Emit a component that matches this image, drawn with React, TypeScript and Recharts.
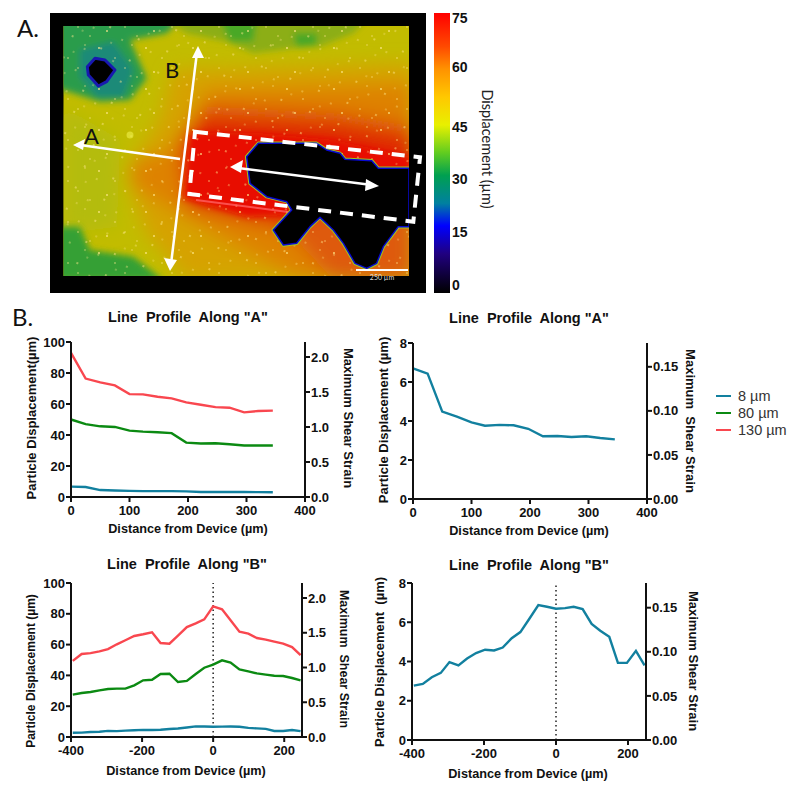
import { LineChart, Line, XAxis, YAxis, ReferenceLine } from 'recharts';

const COLOR_8 = '#12809f';
const COLOR_80 = '#0b8a12';
const COLOR_130 = '#f9474f';

const FONT = '"Liberation Sans", Arial, sans-serif';
const LIGHT_FONT = 'Lato, "Open Sans", sans-serif';

// profile along "A"
const distanceA = [0, 25, 50, 75, 100, 123, 148, 172, 197, 222, 247, 271, 296, 320, 345];
const a8 = [6.7, 6.43, 4.48, 4.22, 3.93, 3.76, 3.8, 3.78, 3.6, 3.22, 3.23, 3.18, 3.22, 3.13, 3.06];
const a80 = [50, 47, 45.6, 45.2, 42.8, 42.2, 41.8, 41.2, 35.1, 34.5, 34.7, 34, 33.2, 33.2, 33.2];
const a130 = [93, 76.4, 73.9, 72, 66.4, 66.2, 64.7, 63.6, 61, 59.5, 58, 57.6, 54.6, 55.5, 55.7];

// profile along "B"
const distanceB = [-395, -370, -345, -320, -296, -271, -247, -222, -197, -172, -148, -123, -99, -74, -49, -25, 0, 25, 49, 74, 99, 123, 148, 172, 197, 222, 246];
const b8 = [2.77, 2.86, 3.2, 3.42, 3.97, 3.8, 4.15, 4.43, 4.6, 4.56, 4.71, 5.19, 5.5, 6.18, 6.88, 6.79, 6.69, 6.72, 6.79, 6.67, 5.92, 5.57, 5.26, 3.93, 3.93, 4.54, 3.8];
const b80 = [27.5, 28.6, 29.2, 30.3, 31.2, 31.4, 31.4, 33.5, 36.8, 37.2, 40.9, 41.1, 35.7, 36.4, 40.9, 45, 47, 49.8, 48.3, 43.9, 42.6, 41.3, 40.5, 39.8, 39.6, 38.3, 36.8];
const b130 = [49.4, 53.9, 54.5, 55.6, 57.1, 60.2, 62.8, 65.6, 66.7, 68, 61, 60.6, 65.8, 71.4, 73.8, 76.4, 84.8, 82.9, 75.8, 68.4, 67.1, 64.3, 63.2, 61.9, 60.6, 58.4, 53.2];

const ticksA = [0, 100, 200, 300, 400];
const ticksB = [-400, -200, 0, 200];
const ticksAll = [0, 20, 40, 60, 80, 100];
const ticksSmall = [0, 2, 4, 6, 8];
const strainAll = [0, 0.5, 1, 1.5, 2];
const strainSmall = [0, 0.05, 0.1, 0.15];

const legendLabels = ['8 µm', '80 µm', '130 µm'];
const legendColors = [COLOR_8, COLOR_80, COLOR_130];
const colorbarTicks = [
  { label: '75', y: 18 },
  { label: '60', y: 67 },
  { label: '45', y: 127 },
  { label: '30', y: 179 },
  { label: '15', y: 232 },
  { label: '0', y: 285 },
];

const toRows = (xs: number[], s8: number[], s80: number[], s130: number[]) =>
  xs.map((x, i) => ({ x, s8: s8[i], s80: s80[i], s130: s130[i] }));

const rowsA = toRows(distanceA, a8, a80, a130);
const rowsB = toRows(distanceB, b8, b80, b130);

const PAD_SIDE = 75;
const PAD_TOP = 40;
const PAD_BOTTOM = 45;

const titleStyle = { fontFamily: FONT, fontWeight: 700, fill: '#111', whiteSpace: 'pre' as const };

interface ProfileChartProps {
  rows: typeof rowsA;
  title: string;
  titleX: number;
  titleY: number;
  plot: { left: number; right: number; top: number; bottom: number };
  xDomain: number[];
  xTicks: number[];
  yMax: number;
  yTicks: number[];
  strainMax: number;
  strainTicks: number[];
  strainDigits: number;
  leftLabel: { text: string; x: number; y: number; size: number };
  rightLabel: { text: string; x: number; y: number; size: number };
  bottomLabel: { x: number; y: number };
  allSeries: boolean;
  marker: boolean;
}

const ProfileChart = (p: ProfileChartProps) => {
  const originX = p.plot.left - PAD_SIDE;
  const originY = p.plot.top - PAD_TOP;
  const width = p.plot.right - p.plot.left + PAD_SIDE * 2;
  const height = p.plot.bottom - p.plot.top + PAD_TOP + PAD_BOTTOM;
  const tick = { fontFamily: FONT, fontWeight: 700, fontSize: 13, fill: '#111' };
  const axisLine = { stroke: '#111', strokeWidth: 2 };
  const tickLine = { stroke: '#111', strokeWidth: 2 };
  return (
    <div style={{ position: 'absolute', left: originX, top: originY }}>
      <LineChart
        width={width}
        height={height}
        data={p.rows}
        margin={{ top: PAD_TOP, bottom: 0, left: PAD_SIDE - 40, right: PAD_SIDE - 40 }}
      >
        <XAxis
          type="number"
          dataKey="x"
          domain={p.xDomain}
          ticks={p.xTicks}
          interval={0}
          height={PAD_BOTTOM}
          tick={tick}
          tickSize={5}
          tickMargin={4}
          axisLine={axisLine}
          tickLine={tickLine}
          label={{
            content: () => (
              <text
                x={p.bottomLabel.x - originX}
                y={p.bottomLabel.y - originY}
                textAnchor="middle"
                dominantBaseline="central"
                fontSize={12.7}
                style={titleStyle}
              >
                Distance from Device (µm)
              </text>
            ),
          }}
        />
        <YAxis
          yAxisId="left"
          type="number"
          width={40}
          domain={[0, p.yMax]}
          ticks={p.yTicks}
          interval={0}
          tick={tick}
          tickSize={5}
          tickMargin={1}
          axisLine={axisLine}
          tickLine={tickLine}
          label={{
            content: () => (
              <text
                transform={`translate(${p.leftLabel.x - originX},${p.leftLabel.y - originY}) rotate(-90)`}
                textAnchor="middle"
                dominantBaseline="central"
                fontSize={p.leftLabel.size}
                style={titleStyle}
              >
                {p.leftLabel.text}
              </text>
            ),
          }}
        />
        <YAxis
          yAxisId="right"
          orientation="right"
          type="number"
          width={40}
          domain={[0, p.strainMax]}
          allowDataOverflow
          ticks={p.strainTicks}
          interval={0}
          tickFormatter={(v: number) => v.toFixed(p.strainDigits)}
          tick={tick}
          tickSize={5}
          tickMargin={1}
          axisLine={axisLine}
          tickLine={tickLine}
          label={{
            content: () => (
              <text
                transform={`translate(${p.rightLabel.x - originX},${p.rightLabel.y - originY}) rotate(90)`}
                textAnchor="middle"
                dominantBaseline="central"
                fontSize={p.rightLabel.size}
                style={titleStyle}
              >
                {p.rightLabel.text}
              </text>
            ),
          }}
        />
        {p.marker && (
          <ReferenceLine
            yAxisId="left"
            x={0}
            stroke="#222"
            strokeWidth={1.5}
            strokeDasharray="1.5 3"
          />
        )}
        {/* the right axis only shows its ticks when a series is bound to it */}
        <Line yAxisId="right" dataKey="s8" stroke="none" dot={false} isAnimationActive={false} />
        {p.allSeries && (
          <Line yAxisId="left" dataKey="s130" stroke={COLOR_130} strokeWidth={2.4} dot={false} isAnimationActive={false} />
        )}
        {p.allSeries && (
          <Line yAxisId="left" dataKey="s80" stroke={COLOR_80} strokeWidth={2.4} dot={false} isAnimationActive={false} />
        )}
        <Line
          yAxisId="left"
          dataKey="s8"
          stroke={COLOR_8}
          strokeWidth={2.4}
          dot={false}
          isAnimationActive={false}
        />
      </LineChart>
      <div
        style={{
          position: 'absolute',
          left: p.titleX - originX - 120,
          top: p.titleY - originY - 10,
          width: 240,
          textAlign: 'center',
          fontFamily: FONT,
          fontWeight: 700,
          fontSize: 14.5,
          lineHeight: '20px',
          color: '#111',
          whiteSpace: 'pre',
        }}
      >
        {p.title}
      </div>
    </div>
  );
};

// the micrograph above the plots, traced by hand as one picture
const poly = (pts: number[][]) => pts.map(([x, y]) => `${x / 3},${y / 3}`).join(' ');

const HOLE_MAIN = [[775, 430], [950, 430], [980, 450], [1020, 460], [1035, 478], [1115, 482], [1135, 505], [1227, 505], [1227, 680], [1195, 680], [1150, 740], [1130, 790], [1100, 805], [1065, 790], [1030, 730], [1000, 690], [960, 652], [930, 680], [890, 730], [850, 735], [820, 690], [875, 630], [860, 605], [800, 590], [750, 550], [740, 470]];
const HOLE_SMALL = [[262, 200], [285, 175], [315, 180], [345, 210], [320, 245], [295, 258], [265, 225]];

const MapPanel = () => (
  <svg width={520} height={300} style={{ position: 'absolute', left: 0, top: 0 }}>
    <defs>
      <linearGradient id="bar" x1="0" y1="0" x2="0" y2="1">
        <stop offset="0" stopColor="#ff0000" />
        <stop offset="0.12" stopColor="#ff4a00" />
        <stop offset="0.2" stopColor="#ff9200" />
        <stop offset="0.3" stopColor="#ffc800" />
        <stop offset="0.4" stopColor="#e8f000" />
        <stop offset="0.5" stopColor="#60cc20" />
        <stop offset="0.58" stopColor="#00a050" />
        <stop offset="0.68" stopColor="#0080a0" />
        <stop offset="0.76" stopColor="#0000ff" />
        <stop offset="0.86" stopColor="#200080" />
        <stop offset="1" stopColor="#000000" />
      </linearGradient>
      <filter id="soft" x="-20%" y="-20%" width="140%" height="140%">
        <feGaussianBlur stdDeviation="9" />
      </filter>
      <filter id="tight" x="-20%" y="-20%" width="140%" height="140%">
        <feGaussianBlur stdDeviation="3" />
      </filter>
      <clipPath id="field">
        <rect x={63.5} y={26} width={345.5} height={250} />
      </clipPath>
      <pattern id="specks" width="47" height="41" patternUnits="userSpaceOnUse">
        <circle cx="5" cy="7" r="0.9" fill="#ffe98a" opacity="0.9" />
        <circle cx="21" cy="17" r="0.8" fill="#ffe98a" opacity="0.8" />
        <circle cx="38" cy="4" r="0.7" fill="#ffe98a" opacity="0.8" />
        <circle cx="13" cy="31" r="1" fill="#ffe98a" opacity="0.8" />
        <circle cx="31" cy="27" r="0.7" fill="#ffe98a" opacity="0.9" />
        <circle cx="43" cy="36" r="0.8" fill="#ffe98a" opacity="0.7" />
      </pattern>
      <pattern id="specks2" width="31" height="23" patternUnits="userSpaceOnUse" patternTransform="rotate(23)">
        <circle cx="4" cy="12" r="0.8" fill="#ffe98a" opacity="0.8" />
        <circle cx="19" cy="5" r="0.9" fill="#ffe98a" opacity="0.7" />
        <circle cx="26" cy="19" r="0.7" fill="#ffe98a" opacity="0.8" />
      </pattern>
    </defs>
    <rect x={50} y={13} width={376} height={280} fill="#000" />
    <g clipPath="url(#field)">
      <rect x={63} y={26} width={347} height={251} fill="#c2bc00" />
      <g filter="url(#soft)">
        <polygon points={poly([[190, 320], [360, 420], [350, 680], [190, 700]])} fill="#b4bc10" />
        <polygon points={poly([[520, 210], [1240, 190], [1240, 840], [560, 840], [440, 700], [380, 520], [480, 360]])} fill="#d6a200" />
        <polygon points={poly([[620, 270], [1240, 250], [1240, 840], [900, 840], [640, 700], [400, 560], [390, 490], [540, 440]])} fill="#de8200" />
        <polygon points={poly([[620, 310], [1000, 330], [1240, 370], [1240, 840], [1000, 840], [860, 690], [560, 630], [530, 430]])} fill="#de5a08" />
        <polygon points={poly([[600, 350], [1000, 370], [1240, 410], [1240, 520], [860, 680], [560, 610], [540, 420]])} fill="#e02800" />
      </g>
      <g filter="url(#tight)">
        <polygon points={poly([[150, 60], [540, 60], [500, 100], [390, 120], [440, 235], [390, 300], [300, 305], [190, 270], [150, 260]])} fill="#2a9c4c" />
        <polygon points={poly([[500, 60], [1100, 60], [1060, 100], [960, 140], [880, 145], [760, 160], [680, 125], [560, 100]])} fill="#8cae18" />
        <polygon points={poly([[660, 60], [770, 60], [760, 125], [690, 125]])} fill="#48a828" />
        <polygon points={poly([[880, 100], [950, 100], [950, 135], [890, 140]])} fill="#48a828" />
        <polygon points={poly([[150, 680], [240, 680], [270, 750], [400, 770], [490, 840], [150, 840]])} fill="#34a034" />
        <polygon points={poly([[570, 400], [780, 400], [1000, 420], [1230, 470], [1230, 520], [860, 645], [740, 650], [550, 595]])} fill="#e81000" />
        <polygon points={poly([[240, 150], [340, 125], [400, 210], [370, 290], [290, 290], [240, 230]])} fill="#1a8a78" />
      </g>
      <polygon points={poly([[190, 78], [1227, 78], [1227, 829], [190, 829]])} fill="url(#specks)" />
      <polygon points={poly([[190, 78], [1227, 78], [1227, 829], [190, 829]])} fill="url(#specks2)" />
      <polygon points={poly(HOLE_MAIN)} fill="#000" stroke="#9cc820" strokeWidth={3.5} strokeLinejoin="round" />
      <polygon points={poly(HOLE_MAIN)} fill="#000" stroke="#0808d0" strokeWidth={1.5} strokeLinejoin="round" />
      <polygon points={poly(HOLE_SMALL)} fill="#000" stroke="#1818b0" strokeWidth={3} strokeLinejoin="round" />
      <circle cx={130} cy={135} r={3.5} fill="#e8e840" opacity={0.7} />
      <line x1={196} y1={200} x2={288} y2={212} stroke="#ff6060" strokeWidth={2} opacity={0.8} />
    </g>
    <polygon
      points={poly([[585, 395], [1260, 472], [1240, 665], [568, 582]])}
      fill="none"
      stroke="#fff"
      strokeWidth={4}
      strokeDasharray="13 9"
    />
    <g stroke="#fff" strokeWidth={2.5} fill="#fff">
      <line x1={180} y1={159} x2={80} y2={145} />
      <polygon points="73,145 85,139 83,150" stroke="none" />
      <line x1={197} y1={52} x2={171} y2={264} />
      <polygon points="198,46 192,58 204,58" stroke="none" />
      <polygon points="170,271 164,258 177,260" stroke="none" />
      <line x1={238} y1={168} x2={372} y2={185} />
      <polygon points="230,167 243,160 241,173" stroke="none" />
      <polygon points="379,186 366,179 365,191" stroke="none" />
    </g>
    <line x1={356} y1={270} x2={408} y2={270} stroke="#fff" strokeWidth={2} />
    <text x={382} y={280} textAnchor="middle" fontSize={7} fontFamily={LIGHT_FONT} fill="#ddd">250 µm</text>
    <text x={17} y={37} fontSize={24} fontFamily={LIGHT_FONT} fill="#111">A.</text>
    <text x={84} y={144} fontSize={22} fontFamily={LIGHT_FONT} fill="#111">A</text>
    <text x={165} y={78} fontSize={22} fontFamily={LIGHT_FONT} fill="#111">B</text>
    <rect x={434} y={13} width={16} height={280} fill="url(#bar)" />
    {colorbarTicks.map((t) => (
      <text key={t.label} x={452} y={t.y} dominantBaseline="central" fontSize={14} fontWeight={700} fontFamily={FONT} fill="#111">
        {t.label}
      </text>
    ))}
    <text
      transform="translate(487,149) rotate(90)"
      textAnchor="middle"
      dominantBaseline="central"
      fontSize={14.5}
      fontFamily={LIGHT_FONT}
      fill="#222"
    >
      Displacement (µm)
    </text>
  </svg>
);

const SeriesLegend = () => (
  <div style={{ position: 'absolute', left: 716, top: 387 }}>
    {legendLabels.map((label, i) => (
      <div key={label} style={{ display: 'flex', alignItems: 'center', height: 17.3 }}>
        <div style={{ width: 15, height: 2, background: legendColors[i], marginRight: 7 }} />
        <span style={{ fontFamily: FONT, fontSize: 14.5, color: '#333' }}>{label}</span>
      </div>
    ))}
  </div>
);

export default function App() {
  return (
    <div style={{ position: 'absolute', left: 0, top: 0, width: 800, height: 794, background: '#fff', overflow: 'hidden' }}>
      <MapPanel />
      <div style={{ position: 'absolute', left: 12, top: 302, fontFamily: LIGHT_FONT, fontSize: 24, color: '#111' }}>B.</div>
      <ProfileChart
        rows={rowsA}
        title={'Line  Profile  Along "A"'}
        titleX={188}
        titleY={317}
        plot={{ left: 71, right: 305, top: 342, bottom: 497 }}
        xDomain={[0, 400]}
        xTicks={ticksA}
        yMax={100}
        yTicks={ticksAll}
        strainMax={2.214}
        strainTicks={strainAll}
        strainDigits={1}
        leftLabel={{ text: 'Particle Displacement(µm)', x: 31, y: 418, size: 13 }}
        rightLabel={{ text: 'Maximum Shear Strain', x: 348, y: 418, size: 13 }}
        bottomLabel={{ x: 188, y: 529 }}
        allSeries
        marker={false}
      />
      <ProfileChart
        rows={rowsA}
        title={'Line  Profile  Along "A"'}
        titleX={529}
        titleY={318}
        plot={{ left: 413, right: 647, top: 343, bottom: 499 }}
        xDomain={[0, 400]}
        xTicks={ticksA}
        yMax={8}
        yTicks={ticksSmall}
        strainMax={0.177}
        strainTicks={strainSmall}
        strainDigits={2}
        leftLabel={{ text: 'Particle Displacement (µm)', x: 383, y: 420, size: 13 }}
        rightLabel={{ text: 'Maximum  Shear Strain', x: 690, y: 421, size: 13 }}
        bottomLabel={{ x: 529, y: 531 }}
        allSeries={false}
        marker={false}
      />
      <ProfileChart
        rows={rowsB}
        title={'Line  Profile  Along "B"'}
        titleX={187}
        titleY={564}
        plot={{ left: 71, right: 302, top: 583, bottom: 737 }}
        xDomain={[-400, 250]}
        xTicks={ticksB}
        yMax={100}
        yTicks={ticksAll}
        strainMax={2.216}
        strainTicks={strainAll}
        strainDigits={1}
        leftLabel={{ text: 'Particle Displacement (µm)', x: 31, y: 671, size: 12 }}
        rightLabel={{ text: 'Maximum  Shear Strain', x: 344, y: 659, size: 12.5 }}
        bottomLabel={{ x: 186, y: 771 }}
        allSeries
        marker
      />
      <ProfileChart
        rows={rowsB}
        title={'Line  Profile  Along "B"'}
        titleX={529}
        titleY={565}
        plot={{ left: 412, right: 646, top: 583, bottom: 740 }}
        xDomain={[-400, 250]}
        xTicks={ticksB}
        yMax={8}
        yTicks={ticksSmall}
        strainMax={0.178}
        strainTicks={strainSmall}
        strainDigits={2}
        leftLabel={{ text: 'Particle Displacement  (µm)', x: 379, y: 662, size: 13 }}
        rightLabel={{ text: 'Maximum Shear Strain', x: 693, y: 661, size: 13 }}
        bottomLabel={{ x: 528, y: 774 }}
        allSeries={false}
        marker
      />
      <SeriesLegend />
    </div>
  );
}
